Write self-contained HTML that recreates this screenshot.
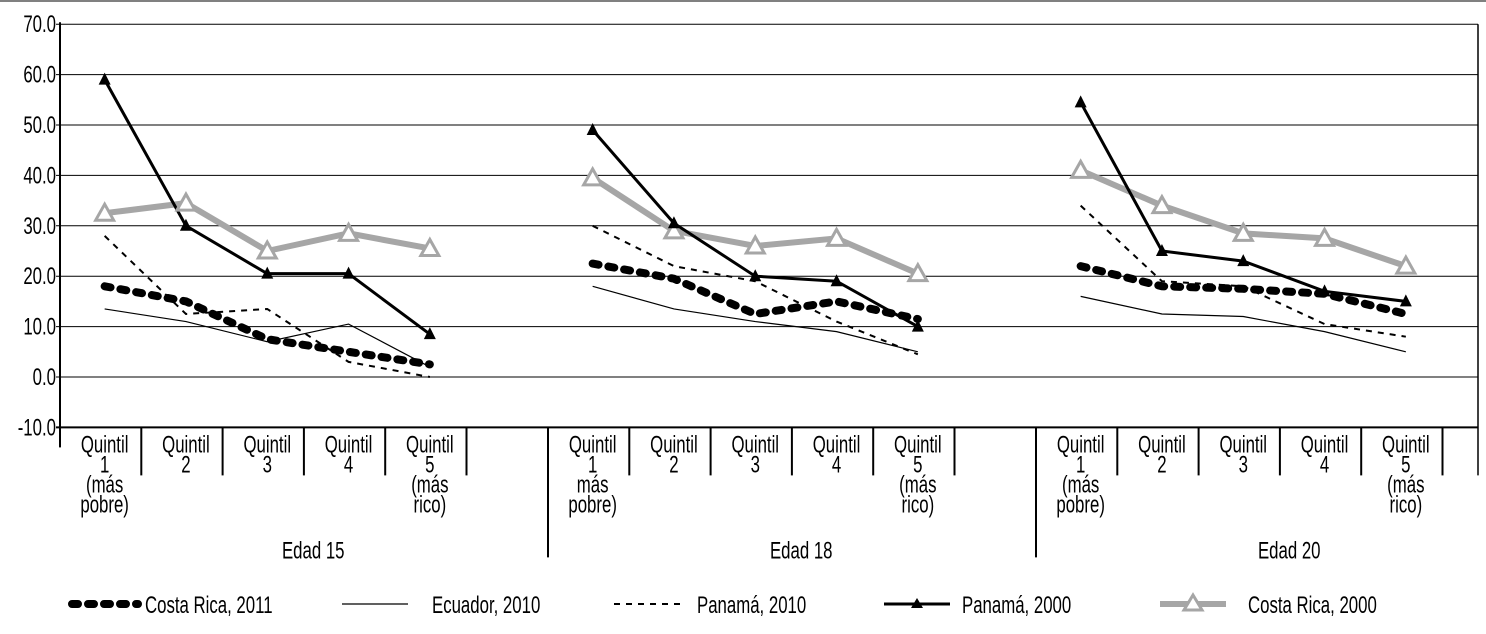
<!DOCTYPE html>
<html><head><meta charset="utf-8"><style>
body{margin:0;background:#fff}
svg{display:block}
text{font-family:"Liberation Sans",sans-serif;font-size:24px;fill:#000}
</style></head><body>
<svg id="chart" width="1486" height="634">
<line x1="0" y1="1" x2="1486" y2="1" stroke="#000" stroke-width="1"/>
<g id="grid"></g><g id="xax"></g><g id="series"></g><g id="legend"></g>
</svg>
<script>
const groups=["Edad 15","Edad 18","Edad 20"];
const quintiles=["1","2","3","4","5"];
const yTicks=[-10,0,10,20,30,40,50,60,70];
const crica2011=[18,15,7.5,5,2.5, 22.5,19.5,12.5,15,11.5, 22,18,17.5,16.5,12.5];
const ecuador2010=[13.5,11,7,10.5,2, 18,13.5,11,9,5, 16,12.5,12,9,5];
const panama2010=[28,12.5,13.5,3,0, 30,22,19,11,4.5, 34,19,18,10.5,8];
const panama2000=[59,30,20.5,20.5,8.5, 49,30.5,20,19,10, 54.5,25,23,17,15];
const crica2000=[32.5,34.5,25,28.5,25.5, 39.5,29,26,27.5,20.5, 41,34,28.5,27.5,22];
const NS="http://www.w3.org/2000/svg";
const X0=60,X1=1478,SW=81.3,GW=488,SX=0.7;
const y=v=>377-(v)*5.04;
const x=i=>X0+Math.floor(i/5)*GW+(i%5)*SW+SW/2+4;
function mk(tag,attrs,parent,txt){const e=document.createElementNS(NS,tag);for(const k in attrs)e.setAttribute(k,attrs[k]);if(txt!==undefined)e.textContent=txt;parent.appendChild(e);return e;}
function tx(px,py,anchor,s,parent){return mk('text',{x:px/SX,y:py,'text-anchor':anchor,transform:`scale(${SX},1)`},parent,s);}
const grid=document.getElementById('grid');
yTicks.forEach(t=>{
 const l=mk('line',{x1:X0-4,x2:X1,y1:y(t),y2:y(t),stroke:'#000','stroke-width':t==-10?2:1},grid);
 
 
 const tt=tx(56,y(t)+8,'end',t.toFixed(1),grid);
 
 
});
const ax=mk('line',{x1:X0,x2:X0,y1:y(70)-2,y2:y(-10),stroke:'#000','stroke-width':2},grid);


mk('line',{x1:X1,x2:X1,y1:y(70),y2:y(-10)+48,stroke:'#000','stroke-width':1.5},grid);
const xax=document.getElementById('xax');
const yb=y(-10);
groups.forEach((g,gi)=>{
 const gx=X0+gi*GW;
 mk('line',{x1:gx,x2:gx,y1:yb,y2:gi==0?yb+20:yb+130,stroke:'#000','stroke-width':2},xax);
 for(let q=1;q<=5;q++){const sx=gx+q*SW;mk('line',{x1:sx,x2:sx,y1:yb,y2:yb+48,stroke:'#000','stroke-width':2},xax);}
 quintiles.forEach((q,qi)=>{
  const cx=gx+qi*SW+SW/2+4;
  const lines=["Quintil",q];
  if(qi==0){lines.push(gi==1?"más":"(más");lines.push("pobre)");}
  if(qi==4){lines.push("(más");lines.push("rico)");}
  lines.forEach((s,li)=>{const t=tx(cx,yb+25+li*20,'middle',s,xax);
   
   });
 });
 const gt=tx(gx+2.5*SW+50,yb+131,'middle',g,xax);
 
 
});
const ser=document.getElementById('series');
function line(arr,style,name){
 for(let g=0;g<3;g++){
  const pts=arr.slice(g*5,g*5+5).map((v,i)=>x(g*5+i)+','+y(v)).join(' ');
  const p=mk('polyline',Object.assign({points:pts,fill:'none'},style),ser);
  
  
 }
}
const dotStyle={stroke:'#000','stroke-width':8,'stroke-dasharray':'6 10','stroke-linecap':'round'};
line(crica2000,{stroke:'#a6a6a6','stroke-width':6},'costa-rica-2000');
line(ecuador2010,{stroke:'#000','stroke-width':1.2},'ecuador-2010');
line(panama2010,{stroke:'#000','stroke-width':2,'stroke-dasharray':'6 6'},'panama-2010');
line(crica2011,dotStyle,'costa-rica-2011');
line(panama2000,{stroke:'#000','stroke-width':3},'panama-2000');
crica2000.forEach((v,i)=>{const cx=x(i),cy=y(v);
 const m=mk('polygon',{points:`${cx},${cy-9} ${cx-9},${cy+7} ${cx+9},${cy+7}`,fill:'#fff',stroke:'#a6a6a6','stroke-width':3},ser);
 
 });
panama2000.forEach((v,i)=>{const cx=x(i),cy=y(v);
 const m=mk('polygon',{points:`${cx},${cy-7} ${cx-6},${cy+5} ${cx+6},${cy+5}`,fill:'#000'},ser);
 
 });
const lg=document.getElementById('legend');const LY=604;
function entry(x0,style,label,marker,name,tx0){
 const g=mk('g',{},lg);
 
 
 mk('line',Object.assign({x1:x0,x2:x0+66,y1:LY,y2:LY},style),g);
 if(marker=='gray')mk('polygon',{points:`${x0+33},${LY-9} ${x0+24},${LY+6} ${x0+42},${LY+6}`,fill:'#fff',stroke:'#a6a6a6','stroke-width':3},g);
 if(marker=='black')mk('polygon',{points:`${x0+33},${LY-6} ${x0+27},${LY+4} ${x0+39},${LY+4}`,fill:'#000'},g);
 tx(tx0,LY+9,'start',label,g);
}
entry(72,dotStyle,'Costa Rica, 2011','','costa-rica-2011',145);
entry(342,{stroke:'#000','stroke-width':1.2},'Ecuador, 2010','','ecuador-2010',432);
entry(614,{stroke:'#000','stroke-width':2,'stroke-dasharray':'6 6'},'Panamá, 2010','','panama-2010',697);
entry(884,{stroke:'#000','stroke-width':3},'Panamá, 2000','black','panama-2000',962);
entry(1160,{stroke:'#a6a6a6','stroke-width':6},'Costa Rica, 2000','gray','costa-rica-2000',1248);
</script>
</body></html>
